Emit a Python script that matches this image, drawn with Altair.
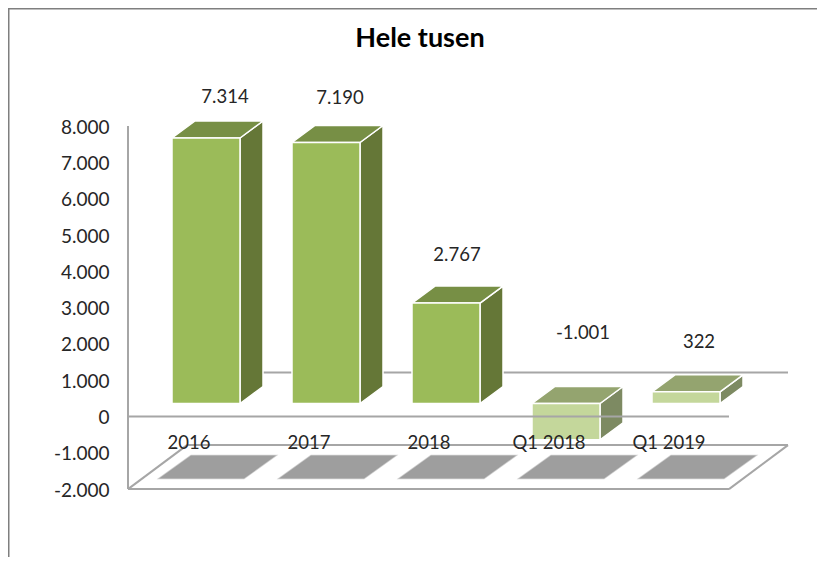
import altair as alt
import pandas as pd

CATEGORIES = ["2016", "2017", "2018", "Q1 2018", "Q1 2019"]
VALUES = [7314, 7190, 2767, -1001, 322]
VALUE_LABELS = ["7.314", "7.190", "2.767", "-1.001", "322"]
TICKS = [-2000, -1000, 0, 1000, 2000, 3000, 4000, 5000, 6000, 7000, 8000]
TITLE = "Hele tusen"

# layout: x in category slots (one slot = 120 px), y in value units (1000 = 36.3 px)
SLOT, UNIT = 120.0, 0.0363
W_PX, H_PX = 809, 549
X0_PX, Y0_PX = 172.0, 416.5
def sx(px): return (px - X0_PX) / SLOT
def sy(py): return (Y0_PX - py) / UNIT
X_DOMAIN = [sx(8), sx(8 + W_PX)]
Y_DOMAIN = [sy(8 + H_PX), sy(8)]
BAR_W = 68 / SLOT
DX, DY = 23 / SLOT, 17 / UNIT
BASE = 13 / UNIT
FLOOR_DX, FLOOR_DY = 59 / SLOT, 44 / UNIT
AXIS_X = sx(128)
FRONT_RIGHT = sx(729)
LABEL_DX = [19, 14, 11, 17, 13]
LABEL_LIFT = [24, 28, 31, 54, 33]
CAT_DX, CAT_Y = -17, sy(443)
MIN_V, MAX_V = TICKS[0], TICKS[-1]

FRONT = ["#9BBB59", "#9BBB59", "#9BBB59", "#C4D79B", "#C4D79B"]
TOP = ["#778F45", "#778F45", "#778F45", "#94A46F", "#94A46F"]
SIDE = ["#657737", "#657737", "#657737", "#7D8A62", "#7D8A62"]
LINE = "#A6A6A6"
TEXT = "#262626"
FONT = "Lato"

front, top, side, shadow, vlabels, clabels = [], [], [], [], [], []
for i, v in enumerate(VALUES):
    x0, x1 = float(i), i + BAR_W
    hi, lo = BASE + max(v, 0), BASE + min(v, 0)
    front.append(dict(x=x0, x2=x1, y=lo, y2=hi, c=FRONT[i]))
    for x, a, b in [(x0, hi, hi), (x0 + DX, hi, hi + DY), (x1, hi, hi + DY), (x1 + DX, hi + DY, hi + DY)]:
        top.append(dict(i=i, x=x, y=a, y2=b, c=TOP[i]))
    for x, a, b in [(x1, lo, hi), (x1 + DX, lo + DY, hi + DY)]:
        side.append(dict(i=i, x=x, y=a, y2=b, c=SIDE[i]))
    sx0, sx1, sdx = i + sx(159), i + sx(244), 32 / SLOT
    yb, yt = sy(478.5), sy(455.5)
    for x, a, b in [(sx0, yb, yb), (sx0 + sdx, yb, yt), (sx1, yb, yt), (sx1 + sdx, yt, yt)]:
        shadow.append(dict(i=i, x=x, y=a, y2=b))
    vlabels.append(dict(x=x0 + BAR_W / 2 + LABEL_DX[i] / SLOT, y=hi + DY + LABEL_LIFT[i] / UNIT, t=VALUE_LABELS[i]))
    clabels.append(dict(x=x0 + BAR_W / 2 + CAT_DX / SLOT, y=CAT_Y, t=CATEGORIES[i]))

x_scale = alt.Scale(domain=X_DOMAIN, range=[0, W_PX], nice=False, zero=False)
y_scale = alt.Scale(domain=Y_DOMAIN, nice=False, zero=False)
X = alt.X("x:Q", scale=x_scale, axis=None)
Y_AXIS = alt.Axis(values=TICKS, domain=False, ticks=False, grid=False, offset=-120, labelPadding=19,
                  labelFont=FONT, labelFontSize=19, labelColor=TEXT, labelOverlap=False, title=None,
                  labelOffset=1,
                  labelExpr="(datum.value < 0 ? '-' : '') + replace(format(abs(datum.value), ','), ',', '.')")
Y = alt.Y("y:Q", scale=y_scale, stack=None, axis=Y_AXIS)

def rules(rows, color=LINE, width=2):
    return alt.Chart(pd.DataFrame(rows)).mark_rule(color=color, strokeWidth=width).encode(
        x=X, x2="x2:Q", y=Y, y2="y2:Q")

def faces(rows):
    return alt.Chart(pd.DataFrame(rows)).mark_area(stroke="white", strokeWidth=1.5, strokeJoin="round").encode(
        x=X, y=Y, y2="y2:Q", detail="i:N", fill=alt.Fill("c:N", scale=None))

frame = rules([
    dict(x=X_DOMAIN[0], x2=X_DOMAIN[1], y=Y_DOMAIN[1] - 0.5 / UNIT, y2=Y_DOMAIN[1] - 0.5 / UNIT),
    dict(x=X_DOMAIN[0] + 0.5 / SLOT, x2=X_DOMAIN[0] + 0.5 / SLOT, y=Y_DOMAIN[0], y2=Y_DOMAIN[1]),
], color="#7F7F7F", width=2)

back = rules([
    dict(x=AXIS_X, x2=AXIS_X, y=MIN_V, y2=MAX_V),
    dict(x=AXIS_X + FLOOR_DX, x2=FRONT_RIGHT + FLOOR_DX, y=FLOOR_DY, y2=FLOOR_DY),
    dict(x=AXIS_X + FLOOR_DX, x2=FRONT_RIGHT + FLOOR_DX, y=MIN_V + FLOOR_DY, y2=MIN_V + FLOOR_DY),
    dict(x=AXIS_X, x2=AXIS_X + FLOOR_DX, y=MIN_V, y2=MIN_V + FLOOR_DY),
    dict(x=FRONT_RIGHT, x2=FRONT_RIGHT + FLOOR_DX, y=MIN_V, y2=MIN_V + FLOOR_DY),
    dict(x=AXIS_X, x2=FRONT_RIGHT, y=MIN_V, y2=MIN_V),
])
front_zero = rules([dict(x=AXIS_X, x2=FRONT_RIGHT, y=0, y2=0)])

shadows = alt.Chart(pd.DataFrame(shadow)).mark_area(
    color="#9E9E9E", stroke="#9E9E9E", strokeOpacity=0.5, strokeWidth=1.5).encode(
    x=X, y=Y, y2="y2:Q", detail="i:N")

fronts = alt.Chart(pd.DataFrame(front)).mark_rect(stroke="white", strokeWidth=1.5).encode(
    x=X, x2="x2:Q", y=Y, y2="y2:Q", fill=alt.Fill("c:N", scale=None))

def texts(rows, size=18.5, weight="normal", color=TEXT):
    return alt.Chart(pd.DataFrame(rows)).mark_text(
        font=FONT, fontSize=size, fontWeight=weight, color=color, align="center", baseline="middle"
    ).encode(x=X, y=Y, text="t:N")

title_mark = texts([dict(x=sx(420), y=sy(39), t=TITLE)], size=27, weight="bold", color="#000000")

chart = alt.layer(
    frame, back, shadows,
    faces(side), faces(top), fronts, front_zero,
    texts(vlabels), texts(clabels), title_mark,
).properties(
    width=W_PX, height=H_PX, padding=0,
    autosize=alt.AutoSizeParams(type="none"),
).configure_view(stroke=None)

chart.save("out.html", embed_options={"renderer": "svg", "actions": False})
